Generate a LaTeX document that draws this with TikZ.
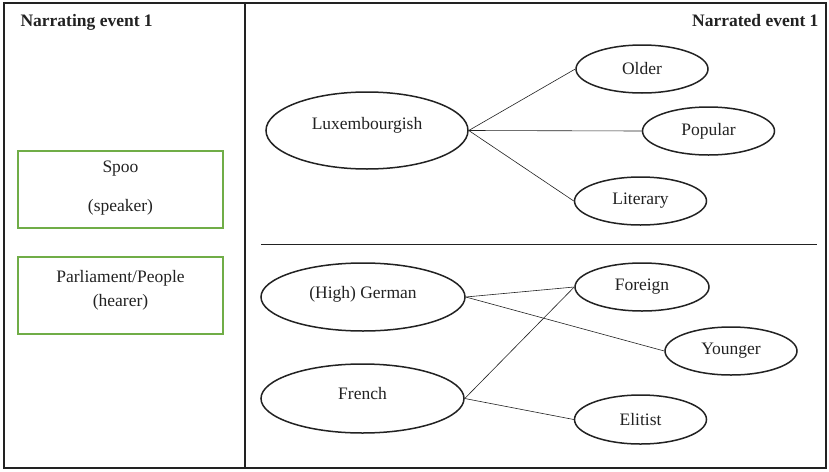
\documentclass[tikz,border=0pt]{standalone}
\usepackage{fontspec}
\setmainfont{Liberation Serif}
\usetikzlibrary{shapes.geometric}
\definecolor{ink}{RGB}{34,34,34}
\definecolor{boxgreen}{RGB}{112,173,71}
\begin{document}
\begin{tikzpicture}[x=1pt,y=-1pt,
  every node/.style={font=\fontsize{17.5}{21}\selectfont, text=ink},
  oval/.style={ellipse, draw=ink, line width=1.5pt, inner sep=0pt},
  bigoval/.style={oval, minimum width=202pt, minimum height=72pt},
  smalloval/.style={oval, minimum width=132pt, minimum height=48pt},
  gbox/.style={draw=boxgreen, line width=1.5pt, rectangle, inner sep=0pt, minimum width=205pt},
  link/.style={draw=ink, line width=0.6pt},
  frame/.style={draw=ink, line width=1.5pt}]
\useasboundingbox (0,0) rectangle (829,471);
\fill[white] (0,0) rectangle (829,471);
% frame
\draw[frame] (4,3) rectangle (826,468);
\draw[frame] (245,3) -- (245,468);
\draw[link, line width=0.8pt] (261,244) -- (817,244);
% headings
\node[anchor=base west, font=\fontsize{17.5}{21}\selectfont\bfseries] (hl) at (17,27) {Narrating event 1};
\node[anchor=base east, font=\fontsize{17.5}{21}\selectfont\bfseries] (hr) at (822,27) {Narrated event 1};
% green boxes
\node[gbox, minimum height=77pt] (spoo) at (120.5,189.5) {};
\node at (120.5,169) (t1) {Spoo};
\node at (120.5,207) (t2) {(speaker)};
\node[gbox, minimum height=77pt] (parl) at (120.5,295.5) {};
\node at (120.5,278) (t3) {Parliament/People};
\node at (120.5,302) (t4) {(hearer)};
% upper ellipses
\node[bigoval, minimum height=77pt] (lux) at (367,130.5) {\raisebox{14pt}{Luxembourgish}};
\node[smalloval] (older) at (642,69) {Older};
\node[smalloval] (popular) at (708.5,131) {Popular};
\node[smalloval] (literary) at (640.5,201) {\raisebox{-4pt}{Literary}};
% lower ellipses
\node[bigoval, minimum height=68pt, minimum width=204pt] (german) at (363,297) {\raisebox{10pt}{(High) German}};
\node[bigoval, minimum height=69pt, minimum width=203pt] (french) at (362.5,398.5) {\raisebox{10pt}{French}};
\node[smalloval, minimum width=134pt] (foreign) at (642,287) {Foreign};
\node[smalloval] (younger) at (731,351) {Younger};
\node[smalloval, minimum height=49pt] (elitist) at (640.5,419.5) {\raisebox{-4pt}{Elitist}};
% connectors
\draw[link] (lux.east) -- (older.west);
\draw[link] (lux.east) -- (popular.west);
\draw[link] (lux.east) -- (literary.west);
\draw[link] (german.east) -- (foreign.west);
\draw[link] (german.east) -- (younger.west);
\draw[link] (french.east) -- (foreign.west);
\draw[link] (french.east) -- (elitist.west);
\end{tikzpicture}
\end{document}
